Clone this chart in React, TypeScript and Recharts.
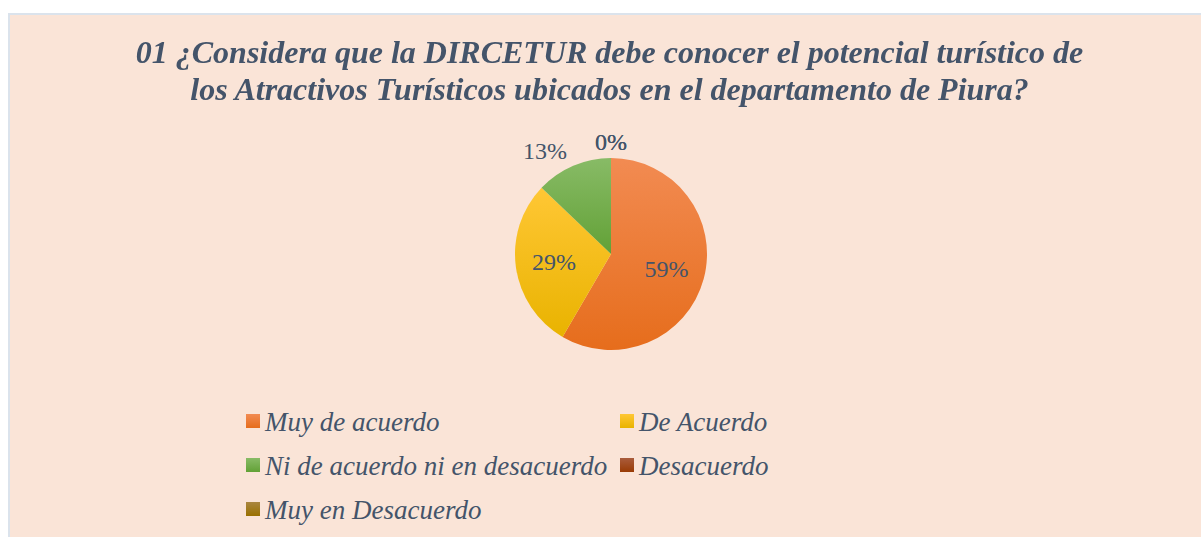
import React from "react";
import { PieChart, Pie, Cell, Legend } from "recharts";

// Survey answers and their share (in %)
const categories = [
  "Muy de acuerdo",
  "De Acuerdo",
  "Ni de acuerdo ni en desacuerdo",
  "Desacuerdo",
  "Muy en Desacuerdo",
];
const percentages = [59, 29, 13, 0, 0];

// gradient colours per slice: [top, bottom]
const gradients = [
  ["#f28b52", "#e66d1c"],
  ["#ffc735", "#e9b300"],
  ["#88bb66", "#62a136"],
  ["#aa5c3c", "#993b05"],
  ["#aa8640", "#997000"],
];

const titleLines = [
  "01 ¿Considera que la DIRCETUR debe conocer el potencial turístico de",
  "los Atractivos Turísticos ubicados en el departamento de Piura?",
];

const FONT = '"Liberation Serif", "Times New Roman", serif';
const TEXT_COLOR = "#44546a";
const RADIAN = Math.PI / 180;

const data = categories.map((name, i) => ({ name, value: percentages[i] }));

const renderLabel = (props: any) => {
  const { cx, cy, midAngle, outerRadius, percent, value, index } = props;
  const inside = percent > 0.2;
  const r = inside ? outerRadius * 0.6 : outerRadius + 16;
  const cos = Math.cos(-midAngle * RADIAN);
  const sin = Math.sin(-midAngle * RADIAN);
  const x = cx + r * cos;
  const y = cy + r * sin;
  let anchor = "middle";
  if (!inside) {
    if (cos > 0.1) anchor = "start";
    else if (cos < -0.1) anchor = "end";
  }
  return (
    <text
      key={`lbl-${index}`}
      x={x}
      y={y}
      fill={TEXT_COLOR}
      textAnchor={anchor}
      dominantBaseline="central"
      style={{ fontFamily: FONT, fontSize: 24 }}
    >
      {`${value}%`}
    </text>
  );
};

const renderLegend = () => (
  <div
    style={{
      display: "grid",
      gridTemplateColumns: "374px auto",
      fontFamily: FONT,
      fontStyle: "italic",
      fontSize: 27,
      lineHeight: "44px",
      color: TEXT_COLOR,
      whiteSpace: "nowrap",
    }}
  >
    {categories.map((name, i) => (
      <div key={name}>
        <span
          style={{
            display: "inline-block",
            width: 14,
            height: 14,
            marginRight: 5,
            verticalAlign: "3px",
            background: `linear-gradient(${gradients[i][0]}, ${gradients[i][1]})`,
          }}
        />
        {name}
      </div>
    ))}
  </div>
);

export default function App() {
  return (
    <div
      style={{
        position: "fixed",
        left: 8,
        top: 13,
        width: 1191,
        height: 522,
        background: "#fae4d7",
        borderTop: "2px solid #dbe3ec",
        borderLeft: "2px solid #dbe3ec",
      }}
    >
      <div
        style={{
          position: "absolute",
          left: 0,
          top: 19,
          width: 1199,
          textAlign: "center",
          fontFamily: FONT,
          fontStyle: "italic",
          fontWeight: "bold",
          fontSize: 32,
          lineHeight: "37px",
          color: TEXT_COLOR,
          whiteSpace: "nowrap",
          zIndex: 1,
        }}
      >
        {titleLines.map((l) => (
          <div key={l}>{l}</div>
        ))}
      </div>
      <PieChart
        width={1191}
        height={522}
        margin={{ top: 0, right: 0, bottom: 0, left: 0 }}
      >
        <defs>
          {gradients.map((g, i) => (
            <linearGradient key={i} id={`grad${i}`} x1="0" y1="0" x2="0" y2="1">
              <stop offset="0%" stopColor={g[0]} />
              <stop offset="100%" stopColor={g[1]} />
            </linearGradient>
          ))}
        </defs>
        <Pie
          data={data}
          dataKey="value"
          nameKey="name"
          cx={601}
          cy={239}
          outerRadius={96}
          startAngle={90}
          endAngle={-270}
          stroke="none"
          label={renderLabel}
          labelLine={false}
          isAnimationActive={false}
        >
          {data.map((_, i) => (
            <Cell key={`cell-${i}`} fill={`url(#grad${i})`} />
          ))}
        </Pie>
        <Legend
          content={renderLegend}
          wrapperStyle={{ position: "absolute", left: 236, top: 384.6, width: "auto" }}
        />
      </PieChart>
    </div>
  );
}
